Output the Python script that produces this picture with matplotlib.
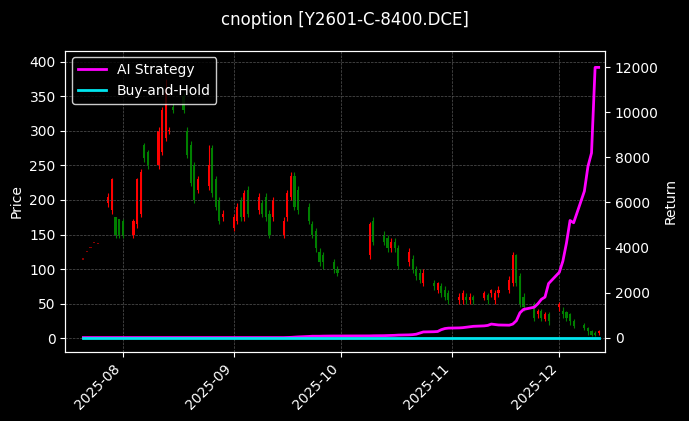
import matplotlib
matplotlib.use("Agg")
import matplotlib.pyplot as plt
import matplotlib.dates as mdates
import pandas as pd
import numpy as np

dates = ["2025-07-21","2025-07-22","2025-07-23","2025-07-24","2025-07-25",
"2025-07-28","2025-07-29","2025-07-30","2025-07-31",
"2025-08-01","2025-08-04","2025-08-05","2025-08-06","2025-08-07","2025-08-08","2025-08-11","2025-08-12","2025-08-13","2025-08-14","2025-08-15",
"2025-08-18","2025-08-19","2025-08-20","2025-08-21","2025-08-22","2025-08-25","2025-08-26","2025-08-27","2025-08-28","2025-08-29",
"2025-09-01","2025-09-02","2025-09-03","2025-09-04","2025-09-05","2025-09-08","2025-09-09","2025-09-10","2025-09-11","2025-09-12",
"2025-09-15","2025-09-16","2025-09-17","2025-09-18","2025-09-19","2025-09-22","2025-09-23","2025-09-24","2025-09-25","2025-09-26","2025-09-29","2025-09-30",
"2025-10-09","2025-10-10","2025-10-13","2025-10-14","2025-10-15","2025-10-16","2025-10-17","2025-10-20","2025-10-21","2025-10-22","2025-10-23","2025-10-24","2025-10-27","2025-10-28","2025-10-29","2025-10-30","2025-10-31",
"2025-11-03","2025-11-04","2025-11-05","2025-11-06","2025-11-07","2025-11-10","2025-11-11","2025-11-12","2025-11-13","2025-11-14","2025-11-17","2025-11-18","2025-11-19","2025-11-20","2025-11-21",
"2025-11-24","2025-11-25","2025-11-26","2025-11-27","2025-11-28",
"2025-12-01","2025-12-02","2025-12-03","2025-12-04","2025-12-05","2025-12-08","2025-12-09","2025-12-10","2025-12-11","2025-12-12"]
opens = [114,125,130,138,136,
195,185,175,172,
170,150,165,180,280,270,250,270,290,300,335,
350,300,280,250,215,220,275,230,200,175,
160,170,200,175,215,185,195,205,180,175,
150,175,205,235,215,190,165,155,125,120,110,100,
120,170,150,145,130,140,130,110,115,100,95,80,80,70,75,70,65,
55,55,60,55,60,58,62,65,55,65,70,80,120,90,60,
50,35,40,28,35,
45,40,38,35,25,20,15,10,8,8]
closes = [114,125,130,138,136,
205,230,150,150,
148,170,230,240,260,250,300,330,360,300,330,
330,265,225,200,230,250,210,190,170,180,
175,190,175,210,180,205,180,175,150,200,
170,210,235,190,185,170,150,130,110,110,100,95,
165,140,140,130,140,130,105,125,100,90,85,95,75,80,65,60,55,
60,65,55,60,55,65,55,70,65,70,85,120,80,50,45,
30,40,30,35,25,
50,35,30,25,18,15,10,5,5,10]
highs = [114,125,130,138,136,
210,232,175,172,
172,172,232,245,282,272,305,335,375,305,340,
355,305,285,255,235,280,280,235,205,185,
180,195,205,215,220,210,200,210,185,205,
175,215,240,240,220,195,170,160,130,125,115,105,
168,175,155,150,145,145,135,130,120,105,100,100,85,82,80,75,70,
65,70,65,65,62,68,65,72,70,75,90,125,122,95,65,
52,42,42,38,38,
52,45,40,37,28,22,16,12,10,12]
lows = [114,125,130,138,136,
190,180,145,145,
145,145,160,175,255,245,245,265,285,295,325,
325,260,220,195,210,215,205,185,165,170,
155,165,170,170,175,180,175,170,145,170,
145,170,200,185,180,165,145,125,105,100,95,90,
115,135,135,125,125,125,100,105,95,85,80,75,70,65,60,55,50,
50,50,50,50,50,55,50,60,50,60,65,75,75,45,40,
25,30,25,25,20,
40,30,25,20,15,12,5,3,3,5]
strategy = [0,0,0,0,0,
0,0,0,0,
0,0,0,0,0,0,0,0,0,0,0,
0,0,0,0,0,0,0,0,0,0,
0,0,0,0,0,0,0,0,0,0,
0,5,10,20,30,50,60,60,60,65,70,70,
75,80,85,90,95,100,110,120,130,150,200,250,260,270,350,400,420,
430,440,460,480,500,520,540,600,580,560,550,600,750,1100,1250,
1350,1500,1700,1800,2400,
2900,3400,4200,5200,5100,6500,7600,8200,12000,12000]
buyhold = [0]*len(dates)

df = pd.DataFrame({"date": pd.to_datetime(dates), "open": opens, "high": highs,
                   "low": lows, "close": closes, "strategy": strategy, "bh": buyhold})

plt.rcParams['font.family'] = ['DejaVu Sans']
fig = plt.figure(figsize=(6.89, 4.21), dpi=100, facecolor='black')
ax = fig.add_axes([0.095, 0.165, 0.783, 0.715])
ax.set_facecolor('black')
x = mdates.date2num(df["date"])
up = df["close"] >= df["open"]
cols = np.where(up, 'red', 'green')
flat = (df["high"] == df["low"]).values
cols = np.where(flat, '#8b0000', cols)
ax.vlines(x, df["low"], df["high"], colors=cols, linewidth=0.8)
body_lo = np.minimum(df["open"], df["close"])
body_h = np.maximum(np.abs(df["close"] - df["open"]), 1.5)
ax.bar(x, body_h, bottom=body_lo, width=0.6, color=cols, linewidth=0)
ax.set_ylim(-19, 416)
ax.set_yticks(range(0, 401, 50))
ax.set_ylabel("Price", color='white')
ax.grid(True, color='#555555', linestyle='--', linewidth=0.5)

ax2 = ax.twinx()
l1, = ax2.plot(x, df["strategy"], color='#ff00ff', linewidth=2, label='AI Strategy')
l2, = ax2.plot(x, df["bh"], color='#00e5ee', linewidth=2, label='Buy-and-Hold')
ax2.set_ylim(-620, 12750)
ax2.set_yticks(range(0, 12001, 2000))
ax2.set_ylabel("Return", color='white')
ax.set_xlim(mdates.date2num(pd.Timestamp("2025-07-16")), mdates.date2num(pd.Timestamp("2025-12-13 18:00")))
ax.xaxis.set_major_locator(mdates.MonthLocator())
ax.xaxis.set_major_formatter(mdates.DateFormatter('%Y-%m'))
plt.setp(ax.get_xticklabels(), rotation=45, ha='right')
for a in (ax, ax2):
    a.tick_params(colors='white')
    for s in a.spines.values():
        s.set_color('white')
leg = ax2.legend(handles=[l1, l2], loc='upper left', facecolor='black', edgecolor='white', labelcolor='white')
fig.suptitle("cnoption [Y2601-C-8400.DCE]", color='white', fontsize=12, y=0.975)
fig.savefig("out.png", facecolor='black')
